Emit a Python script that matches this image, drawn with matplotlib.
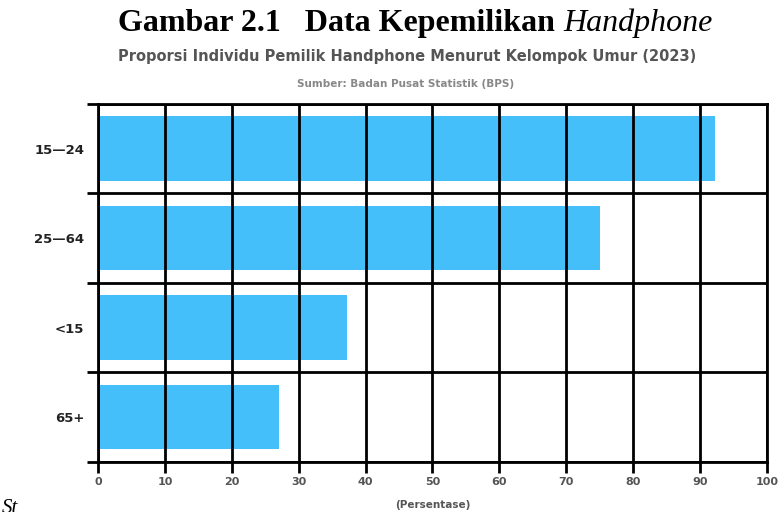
import numpy as np
import matplotlib
matplotlib.use('Agg')
import matplotlib.pyplot as plt

# data
kelompok = ['15\u201424', '25\u201464', '<15', '65+']
persen = [92.2, 75.0, 37.2, 27.0]
xticks = [0, 10, 20, 30, 40, 50, 60, 70, 80, 90, 100]

fig = plt.figure(figsize=(7.82, 5.12), dpi=100)
ax = fig.add_axes([0.1253, 0.0977, 0.8555, 0.6993])

pos = np.arange(len(kelompok))
ax.barh(pos, persen, height=0.72, color='#44BFF9', zorder=1)
ax.set_ylim(len(kelompok) - 0.5, -0.5)
ax.set_xlim(0, 100)

# gridlines at category boundaries, labels in the middle
ax.set_yticks(np.arange(len(kelompok) + 1) - 0.5)
ax.set_yticklabels([])
ax.set_yticks(pos, minor=True)
ax.set_yticklabels(kelompok, minor=True, fontsize=9.5, fontweight='bold',
                   color='#222222', family='DejaVu Sans')
ax.tick_params(axis='y', which='minor', length=0, pad=10)
ax.tick_params(axis='y', which='major', length=8, width=2, color='black')
ax.set_xticks(xticks)
ax.set_xticklabels([str(t) for t in xticks], fontsize=8, fontweight='bold',
                   color='#555555', family='DejaVu Sans')
ax.tick_params(axis='x', length=8, width=2, color='black', pad=3)
ax.grid(True, which='major', color='black', linewidth=2, zorder=2)
ax.set_axisbelow(False)
for s in ax.spines.values():
    s.set_linewidth(2)
    s.set_zorder(3)
ax.set_xlabel('(Persentase)', fontsize=7.5, fontweight='bold', color='#555555',
              family='DejaVu Sans', labelpad=9)

# title: bold part then italic part
t1 = fig.text(0.151, 0.955, 'Gambar 2.1   Data Kepemilikan ', ha='left', va='center',
              fontsize=23, fontweight='bold', family='Liberation Serif')
fig.canvas.draw()
bb = t1.get_window_extent().transformed(fig.transFigure.inverted())
fig.text(bb.x1, 0.955, 'Handphone', ha='left', va='center', fontsize=23,
         fontstyle='italic', family='Liberation Serif')
fig.text(0.521, 0.889, 'Proporsi Individu Pemilik Handphone Menurut Kelompok Umur (2023)',
         ha='center', va='center', fontsize=10.5, fontweight='bold', color='#555555',
         family='DejaVu Sans')
fig.text(0.519, 0.836, 'Sumber: Badan Pusat Statistik (BPS)', ha='center', va='center',
         fontsize=7.5, fontweight='bold', color='#888888', family='DejaVu Sans')
fig.text(0.002, -0.012, 'St', ha='left', va='bottom', fontsize=15,
         fontstyle='italic', family='Liberation Serif')

fig.savefig('out.png', dpi=100)
